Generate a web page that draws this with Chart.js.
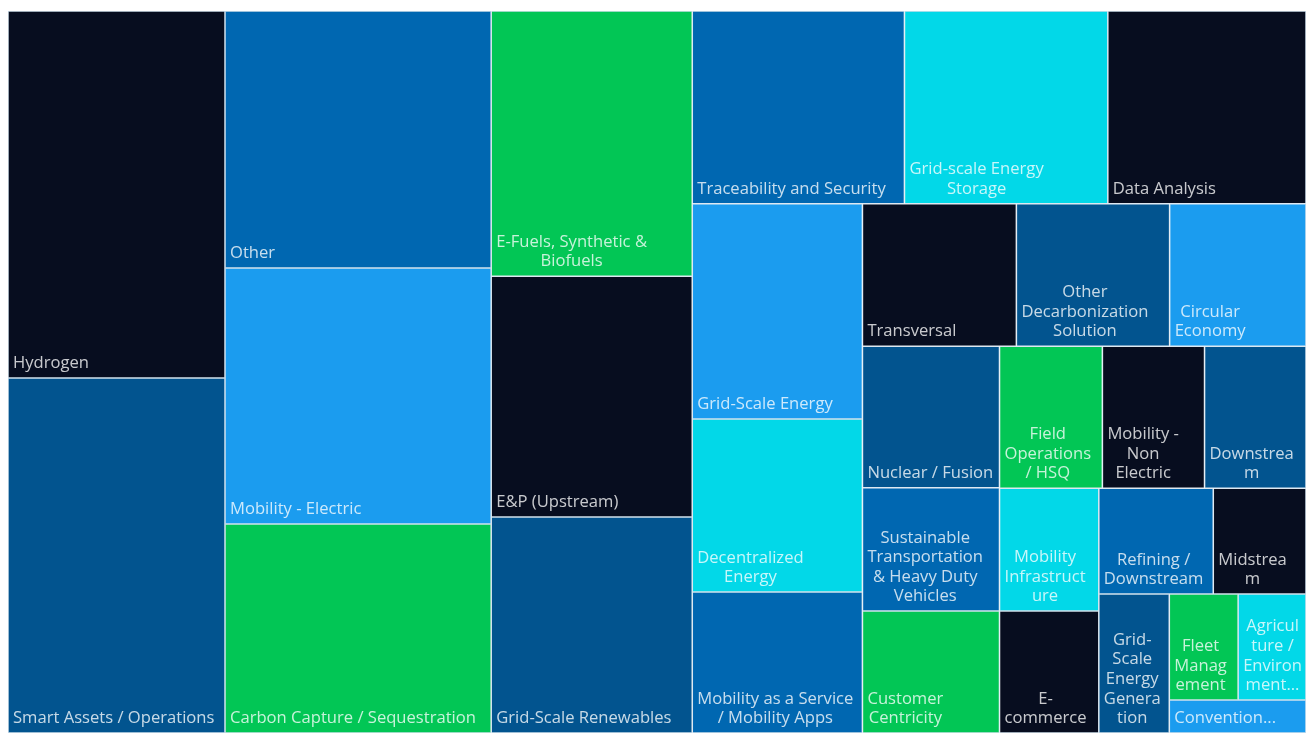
<!DOCTYPE html>
<html>
<head>
<meta charset="utf-8">
<title>Startups by segment</title>
<script src="https://cdn.jsdelivr.net/npm/chart.js@4.4.1/dist/chart.umd.min.js"></script>
<style>
  html, body { margin: 0; padding: 0; background: #ffffff; }
  #wrap { width: 1311px; height: 735px; position: relative; }
</style>
</head>
<body>
<div id="wrap"><canvas id="myChart"></canvas></div>
<script>

// segments, largest first (labels already broken into the lines they show)
const categories = [
    ['Hydrogen'],
    ['Smart Assets / Operations'],
    ['Other'],
    ['Mobility - Electric'],
    ['Carbon Capture / Sequestration'],
    ['E-Fuels, Synthetic &', 'Biofuels'],
    ['E&P (Upstream)'],
    ['Grid-Scale Renewables'],
    ['Traceability and Security'],
    ['Grid-scale Energy', 'Storage'],
    ['Data Analysis'],
    ['Grid-Scale Energy'],
    ['Decentralized', 'Energy'],
    ['Mobility as a Service', '/ Mobility Apps'],
    ['Transversal'],
    ['Other', 'Decarbonization', 'Solution'],
    ['Circular', 'Economy'],
    ['Nuclear / Fusion'],
    ['Sustainable', 'Transportation', '& Heavy Duty', 'Vehicles'],
    ['Customer', 'Centricity'],
    ['Field', 'Operations', '/ HSQ'],
    ['Mobility -', 'Non', 'Electric'],
    ['Downstrea', 'm'],
    ['Mobility', 'Infrastruct', 'ure'],
    ['E-', 'commerce'],
    ['Refining /', 'Downstream'],
    ['Midstrea', 'm'],
    ['Grid-', 'Scale', 'Energy', 'Genera', 'tion'],
    ['Fleet', 'Manag', 'ement'],
    ['Agricul', 'ture /', 'Environ', 'ment...'],
    ['Convention...']
];

const values = [
    796, 770, 684, 681, 556, 533, 484, 434, 409, 392, 382,
    366, 294, 240, 219, 218, 194, 194, 169, 167, 146, 145,
    144, 122, 121, 121, 98, 98, 73, 72, 45
];

const NAVY = '#070d1f';
const DARK = '#02548f';
const MID = '#0067b1';
const LIGHT = '#1b9cef';
const GREEN = '#02c655';
const CYAN = '#02d8e8';

const colors = [
    NAVY, DARK, MID, LIGHT, GREEN, GREEN, NAVY, DARK, MID, CYAN, NAVY,
    LIGHT, CYAN, MID, NAVY, DARK, LIGHT, DARK, MID, GREEN, GREEN, NAVY,
    DARK, CYAN, NAVY, MID, NAVY, DARK, GREEN, CYAN, LIGHT
];

// cells a bit taller than wide read better with the labels at the bottom
const targetAspect = 0.87;


function worstRatio(vals, sum, side, scale, across)
{
    let thick = sum * scale / side;
    let worst = 0;
    for(let k = 0; k < vals.length; k++)
    {
        let len = vals[k] * scale / thick;
        let a = across ? len / thick : thick / len;   // width / height
        worst = Math.max(worst, a / targetAspect, targetAspect / a);
    }
    return worst;
}


// squarified layout inside the pixel box x0..x1, y0..y1
function squarify(vals, x0, y0, x1, y1)
{
    let cells = [];
    let remaining = vals.reduce((a, b) => a + b, 0);
    let i = 0;
    while(i < vals.length)
    {
        let w = x1 - x0;
        let h = y1 - y0;
        let across = w < h;          // strip runs along the top
        let side = across ? w : h;
        let scale = (w * h) / remaining;

        let j = i;
        let sum = 0;
        let best = Infinity;
        while(j < vals.length)
        {
            let s = sum + vals[j];
            let score = worstRatio(vals.slice(i, j + 1), s, side, scale, across);
            if(score > best) break;
            best = score;
            sum = s;
            j++;
        }

        let thick = sum * scale / side;
        let pos = across ? x0 : y0;
        for(let k = i; k < j; k++)
        {
            let len = vals[k] * scale / thick;
            if(across)
                cells[k] = {x0: pos, y0: y0, x1: pos + len, y1: y0 + thick};
            else
                cells[k] = {x0: x0, y0: pos, x1: x0 + thick, y1: pos + len};
            pos += len;
        }
        if(across) y0 += thick;
        else x0 += thick;
        remaining -= sum;
        i = j;
    }
    return cells;
}


class TreemapController extends Chart.DatasetController
{
    update(mode)
    {
        const meta = this._cachedMeta;
        this.updateElements(meta.data, 0, meta.data.length, mode);
    }

    updateElements(rects, start, count, mode)
    {
        const meta = this._cachedMeta;
        const xs = meta.xScale;
        const ys = meta.yScale;
        const cells = squarify(this.getDataset().data,
            xs.getPixelForValue(0), ys.getPixelForValue(1),
            xs.getPixelForValue(1), ys.getPixelForValue(0));

        for(let i = start; i < start + count; i++)
        {
            const c = cells[i];
            this.updateElement(rects[i], i, {
                x: (c.x0 + c.x1) / 2,
                y: c.y0,
                base: c.y1,
                width: c.x1 - c.x0,
                height: c.y1 - c.y0,
                horizontal: false,
                inflateAmount: 0,
                borderSkipped: {},
                enableBorderRadius: false,
                options: this.resolveDataElementOptions(i, mode)
            }, mode);
        }
    }

    draw()
    {
        super.draw();

        const ctx = this.chart.ctx;
        const labels = this.chart.data.labels;
        ctx.save();
        ctx.font = '16.6px "Open Sans"';
        ctx.fillStyle = 'rgba(255, 255, 255, 0.78)';
        ctx.textAlign = 'center';
        ctx.textBaseline = 'middle';
        this._cachedMeta.data.forEach((rect, i) => {
            const lines = [].concat(labels[i]);
            const left = rect.x - rect.width / 2;
            const blockWidth = Math.max(...lines.map(l => ctx.measureText(l).width));
            const cx = left + 5 + blockWidth / 2;
            lines.forEach((line, k) => {
                ctx.fillText(line, cx, rect.base - 14.5 - (lines.length - 1 - k) * 19.6);
            });
        });
        ctx.restore();
    }
}
TreemapController.id = 'treemap';
TreemapController.defaults = {
    datasetElementType: false,
    dataElementType: 'bar'
};
Chart.register(TreemapController);


function renderChart()
{
    const ctx = document.getElementById('myChart');

    new Chart(ctx, {
        type: 'treemap',
        data: {
            labels: categories,
            datasets: [{
                label: 'Startups',
                data: values,
                backgroundColor: colors,
                borderColor: '#c6d9e8',
                borderWidth: 0.75,
                borderSkipped: false,
                borderRadius: 0
            }]
        },
        options: {
            responsive: true,
            maintainAspectRatio: false,
            animation: false,
            layout: {
                padding: { left: 8, top: 11, right: 5, bottom: 2 }
            },
            scales: {
                x: { type: 'linear', min: 0, max: 1, display: false },
                y: { type: 'linear', min: 0, max: 1, display: false }
            },
            plugins: {
                legend: { display: false },
                tooltip: { enabled: false }
            }
        }
    });
}

document.fonts.load('16px "Open Sans"').then(renderChart, renderChart);

</script>
</body>
</html>
